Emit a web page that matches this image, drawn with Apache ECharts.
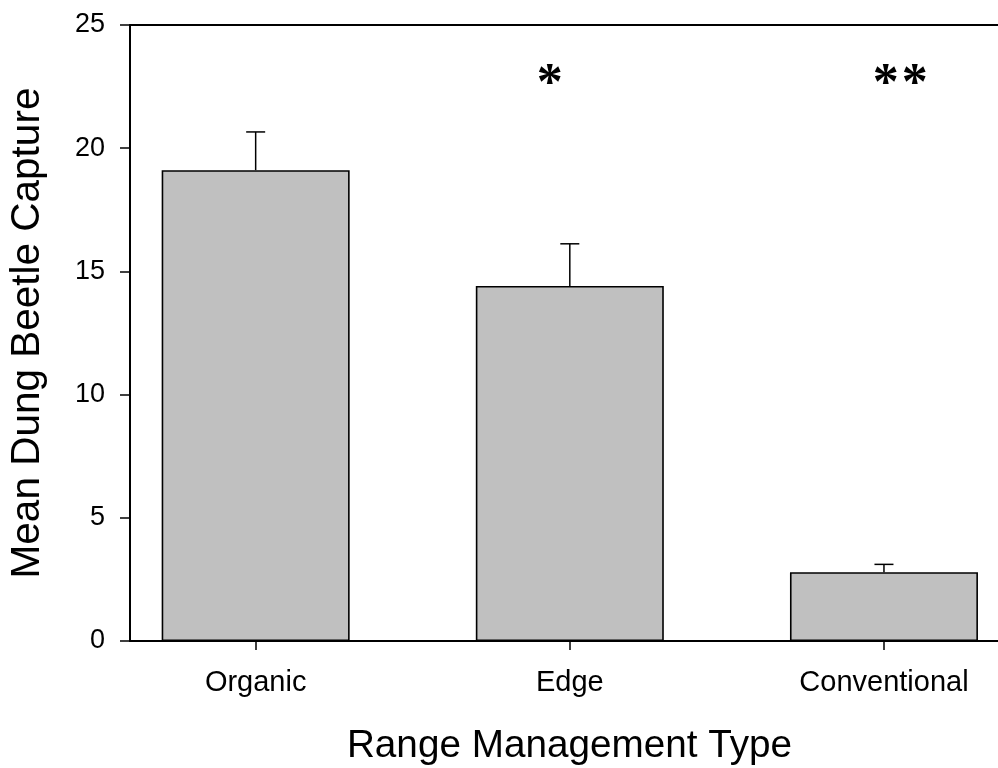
<!DOCTYPE html>
<html>
<head>
<meta charset="utf-8">
<script src="https://cdn.jsdelivr.net/npm/echarts@6/dist/echarts.min.js"></script>
<style>html,body{margin:0;padding:0;background:#fff;}#chart{width:998px;height:768px;}</style>
</head>
<body>
<div id="chart"></div>
<script>
// ---- data ----
const categories = ['Organic', 'Edge', 'Conventional'];
const positions = [1, 2, 3];
const means = [19.11, 14.41, 2.79];
const errors = [1.55, 1.71, 0.32];
const yTickValues = [0, 5, 10, 15, 20, 25];
const sigText = ['*', '**'];
const sigX = [1.936, 3.052];
const sigY = [22.97, 22.97];

const FONT = 'Liberation Sans, Arial, sans-serif';
const chart = echarts.init(document.getElementById('chart'), null, {renderer: 'canvas'});

const option = {
  animation: false,
  backgroundColor: '#ffffff',
  grid: {left: 130, right: 0, top: 25, bottom: 127, containLabel: false, outerBoundsMode: 'none'},
  xAxis: [{
    type: 'value', min: 0.6, max: 3.363, position: 'bottom',
    axisLine: {show: true, onZero: false, lineStyle: {color: '#000', width: 2}},
    axisTick: {show: true, customValues: positions, length: 9, lineStyle: {color: '#000', width: 1.5}},
    axisLabel: {customValues: positions, formatter: v => categories[Math.round(v) - 1] || '',
      fontSize: 29, color: '#000', fontFamily: FONT, margin: 27},
    splitLine: {show: false},
    name: 'Range Management Type', nameLocation: 'middle', nameGap: 86,
    nameTextStyle: {fontSize: 38.7, color: '#000', fontFamily: FONT, padding: [0, 0, 0, 11]}
  }, {
    type: 'value', min: 0.6, max: 3.363, position: 'top',
    axisLine: {show: true, onZero: false, lineStyle: {color: '#000', width: 2}},
    axisTick: {show: false}, axisLabel: {show: false}, splitLine: {show: false}
  }],
  yAxis: {
    type: 'value', min: 0, max: 25, interval: 5,
    axisLine: {show: true, lineStyle: {color: '#000', width: 2}},
    axisTick: {show: true, length: 10, lineStyle: {color: '#000', width: 1.5}},
    axisLabel: {fontSize: 27, color: '#000', fontFamily: FONT, margin: 25,
      customValues: yTickValues},
    splitLine: {show: false},
    name: 'Mean Dung Beetle Capture', nameLocation: 'middle', nameGap: 82, nameRotate: 90,
    nameTextStyle: {fontSize: 40.5, color: '#000', fontFamily: FONT}
  },
  series: [{
    type: 'bar', xAxisIndex: 0,
    data: positions.map((p, i) => [p, means[i]]),
    barWidth: 188,
    itemStyle: {color: '#c0c0c0', borderColor: '#000', borderWidth: 1.6}
  }, {
    type: 'custom', xAxisIndex: 0, z: 3,
    data: positions.map((p, i) => [p, means[i], errors[i]]),
    renderItem: function (params, api) {
      const x = api.value(0), m = api.value(1), e = api.value(2);
      const p0 = api.coord([x, m]);
      const p1 = api.coord([x, m + e]);
      const st = {stroke: '#000', lineWidth: 1.5};
      return {type: 'group', children: [
        {type: 'line', shape: {x1: p0[0], y1: p0[1], x2: p1[0], y2: p1[1]}, style: st},
        {type: 'line', shape: {x1: p1[0] - 9.5, y1: p1[1], x2: p1[0] + 9.5, y2: p1[1]}, style: st}
      ]};
    }
  }, {
    type: 'custom', xAxisIndex: 0, z: 4,
    data: sigX.map((x, i) => [x, sigY[i]]),
    renderItem: function (params, api) {
      const pt = api.coord([api.value(0), api.value(1)]);
      const chars = sigText[params.dataIndex].split('');
      const gap = 29;
      const start = pt[0] - (chars.length - 1) * gap / 2;
      return {type: 'group', children: chars.map((c, k) => ({
        type: 'text', x: start + k * gap, y: pt[1] + 11,
        style: {text: c, font: 'bold 52px Liberation Serif', fill: '#000',
          align: 'center', verticalAlign: 'middle'}
      }))};
    }
  }]
};
chart.setOption(option);
</script>
</body>
</html>
